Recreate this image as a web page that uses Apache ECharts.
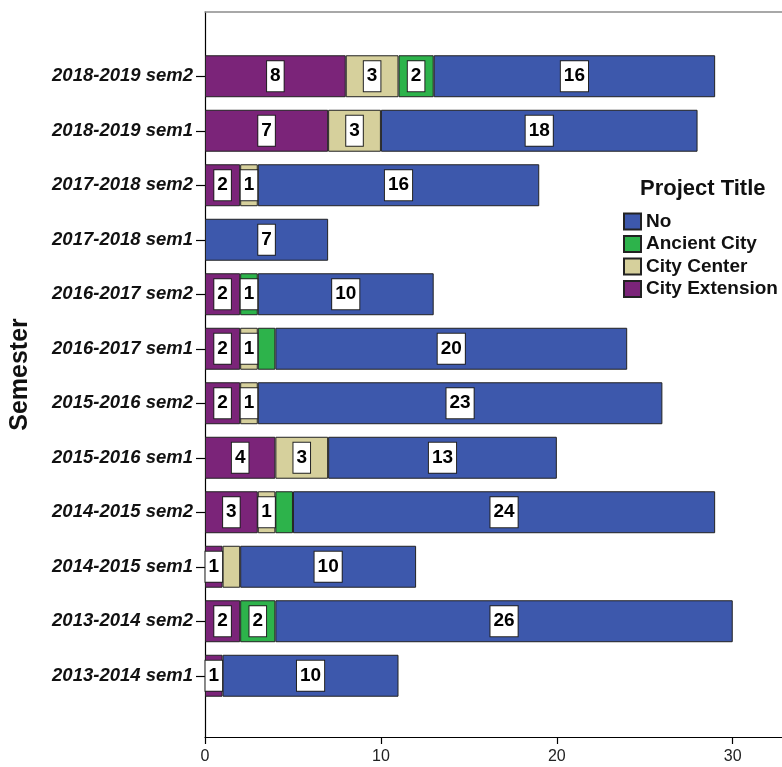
<!DOCTYPE html>
<html>
<head>
<meta charset="utf-8">
<script src="https://cdn.jsdelivr.net/npm/echarts@6/dist/echarts.min.js"></script>
<style>html,body{margin:0;padding:0;background:#fff}#c{width:782px;height:767px}</style>
</head>
<body>
<div id="c"></div>
<script>
// categories listed bottom to top
var semesters = ['2013-2014 sem1','2013-2014 sem2','2014-2015 sem1','2014-2015 sem2','2015-2016 sem1','2015-2016 sem2','2016-2017 sem1','2016-2017 sem2','2017-2018 sem1','2017-2018 sem2','2018-2019 sem1','2018-2019 sem2'];
var cityExtension = [1,2,1,3,4,2,2,2,0,2,7,8];
var cityCenter    = [0,0,1,1,3,1,1,0,0,1,3,3];
var ancientCity   = [0,2,0,1,0,0,1,1,0,0,0,2];
var noProject     = [10,26,10,24,13,23,20,10,7,16,18,16];
var xTicks = [0,10,20,30];
var legendOrder = ['No','Ancient City','City Center','City Extension'];
// segments drawn without a value label in the reference
var unlabeled = {'City Center':['2014-2015 sem1'],'Ancient City':['2014-2015 sem2','2016-2017 sem1']};

var colors = {'City Extension':'#7B2479','City Center':'#D6D09C','Ancient City':'#2DB34B','No':'#3D58AC'};
var FONT = '"Liberation Sans", Arial, sans-serif';
var XMAX = 32.8;

function mk(name, vals){
  var hide = unlabeled[name] || [];
  return {
    name: name, type: 'bar', stack: 'total', xAxisIndex: 2, yAxisIndex: 1,
    barWidth: '77%',
    itemStyle: {color: colors[name], borderColor: '#222', borderWidth: 1},
    label: {
      show: true, position: 'inside', color: '#000', fontWeight: 'bold', fontSize: 19,
      fontFamily: FONT, backgroundColor: '#fff', borderColor: '#222', borderWidth: 1,
      padding: [6,3,5,3],
      formatter: function(p){ return (p.value && hide.indexOf(p.name) < 0) ? String(p.value) : ''; }
    },
    emphasis: {disabled: true},
    data: vals.map(function(v, i){
      var item = {value: v === 0 ? null : v};
      if (v === 0 || hide.indexOf(semesters[i]) >= 0) item.label = {show: false};
      return item;
    })
  };
}

var chart = echarts.init(document.getElementById('c'), null, {renderer: 'canvas'});
chart.setOption({
  animation: false,
  textStyle: {fontFamily: FONT},
  title: {text: 'Project Title', left: 635, top: 173, textStyle: {fontSize: 22, fontWeight: 'bold', color: '#111', fontFamily: FONT}},
  legend: {
    data: legendOrder, orient: 'vertical', left: 623, top: 212, itemWidth: 17, itemHeight: 16, itemGap: 3.5,
    icon: 'rect', padding: 0,
    selectedMode: false, textStyle: {fontSize: 19, fontWeight: 'bold', color: '#111', fontFamily: FONT, padding: [0,0,0,0]}
  },
  grid: [
    {left: 205, right: 0, top: 12, bottom: 30},
    {left: 205, right: 0, top: 49, bottom: 64}
  ],
  xAxis: [
    {gridIndex: 0, type: 'value', min: 0, max: XMAX, interval: 10, position: 'bottom',
     axisLine: {show: true, lineStyle: {color: '#000', width: 1.2}},
     axisTick: {show: true, length: 7, lineStyle: {color: '#000', width: 1.2}},
     axisLabel: {fontSize: 16, color: '#222', margin: 12, showMaxLabel: false, fontFamily: FONT,
       formatter: function(v){ return xTicks.indexOf(v) >= 0 ? String(v) : ''; }},
     splitLine: {show: false}},
    {gridIndex: 0, type: 'value', min: 0, max: XMAX, position: 'top',
     axisLine: {show: true, onZero: false, lineStyle: {color: '#8c8c8c', width: 1.5}},
     axisTick: {show: false}, axisLabel: {show: false}, splitLine: {show: false}},
    {gridIndex: 1, type: 'value', min: 0, max: XMAX, show: false}
  ],
  yAxis: [
    {gridIndex: 0, type: 'value', min: 0, max: 1,
     axisLine: {show: true, lineStyle: {color: '#000', width: 1.2}},
     axisTick: {show: false}, axisLabel: {show: false}, splitLine: {show: false},
     name: 'Semester', nameLocation: 'middle', nameGap: 172, nameRotate: 90,
     nameTextStyle: {fontSize: 25, fontWeight: 'bold', color: '#111', fontFamily: FONT}},
    {gridIndex: 1, type: 'category', data: semesters,
     axisLine: {show: false},
     axisTick: {show: true, alignWithLabel: true, length: 9, lineStyle: {color: '#000', width: 1.2}},
     axisLabel: {fontSize: 18.5, fontWeight: 'bold', fontStyle: 'italic', color: '#111', margin: 12, fontFamily: FONT},
     splitLine: {show: false}}
  ],
  series: [
    mk('City Extension', cityExtension),
    mk('City Center', cityCenter),
    mk('Ancient City', ancientCity),
    mk('No', noProject)
  ]
});
</script>
</body>
</html>
